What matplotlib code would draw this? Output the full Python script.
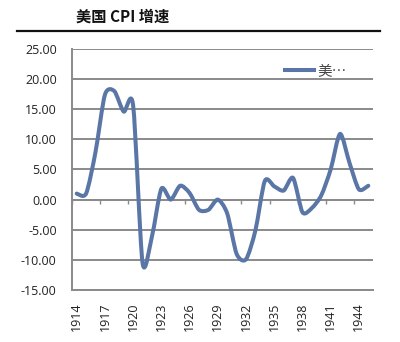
import matplotlib
matplotlib.use("Agg")
import matplotlib.pyplot as plt
from matplotlib.path import Path
from matplotlib.patches import PathPatch
from matplotlib.lines import Line2D
import numpy as np

plt.rcParams['font.family'] = ['Open Sans', 'Noto Sans CJK SC', 'DejaVu Sans']
plt.rcParams['axes.unicode_minus'] = False

# US CPI growth rate, %, 1914-1945
years = list(range(1914, 1946))
cpi = [1.0, 1.0, 7.9, 17.4, 18.0, 14.6, 15.6, -10.5, -6.1, 1.8,
       0.0, 2.3, 1.1, -1.7, -1.7, 0.0, -2.3, -9.0, -9.9, -5.1,
       3.1, 2.2, 1.5, 3.6, -2.1, -1.4, 0.7, 5.0, 10.9, 6.1,
       1.7, 2.3]
yticks = [25, 20, 15, 10, 5, 0, -5, -10, -15]

blue = '#5a76a6'
grid = '#8a8a8a'

fig = plt.figure(figsize=(4.0, 3.42), dpi=100)
ax = fig.add_axes([0.18, 0.152, 0.7525, 0.705])

# smoothed line: cubic bezier segments through each point
x = np.arange(len(cpi), dtype=float)
y = np.array(cpi, dtype=float)
pts = np.column_stack([x, y])
ext = np.vstack([pts[0], pts, pts[-1]])
k = 0.13
verts = [tuple(pts[0])]
codes = [Path.MOVETO]
for i in range(len(pts) - 1):
    p0, p1, p2, p3 = ext[i], ext[i + 1], ext[i + 2], ext[i + 3]
    c1 = p1 + (p2 - p0) * k
    c2 = p2 - (p3 - p1) * k
    verts += [tuple(c1), tuple(c2), tuple(p2)]
    codes += [Path.CURVE4] * 3
ax.add_patch(PathPatch(Path(verts, codes), fill=False, edgecolor=blue,
                       lw=2.9, capstyle='round', joinstyle='round', zorder=3))

ax.set_xlim(-0.5, len(cpi) - 0.5)
ax.set_ylim(-15, 25)
ax.set_yticks(yticks)
ax.set_yticklabels([f'{v:.2f}' for v in yticks])
ax.yaxis.grid(True, color=grid, lw=1.4)
ax.set_axisbelow(True)

ax.set_xticks(x[::3])
ax.set_xticklabels([str(yr) for yr in years[::3]], rotation=90)
ax.tick_params(axis='both', length=0, labelsize=9, colors='#222222')
ax.tick_params(axis='x', pad=9)
ax.tick_params(axis='y', pad=11)

for s in ['top', 'right']:
    ax.spines[s].set_visible(False)
for s in ['left', 'bottom']:
    ax.spines[s].set_color(grid)
    ax.spines[s].set_linewidth(1.4)

# category axis crossing at zero with tick marks between groups
zero_axis = ax.secondary_xaxis(15 / 40)
zero_axis.set_xticks(np.arange(-0.5, len(cpi), 3))
zero_axis.set_xticklabels([])
zero_axis.tick_params(length=3, width=1, color=grid, direction='out')
zero_axis.spines['bottom'].set_color(grid)
zero_axis.spines['bottom'].set_linewidth(1.4)

handle = Line2D([], [], color=blue, lw=2.9)
ax.legend([handle], ['美…'], loc='upper right', bbox_to_anchor=(0.955, 0.99),
          frameon=False, handlelength=2.0, handletextpad=0.2,
          prop={'family': ['Noto Sans CJK SC'], 'size': 10.5}, labelcolor='#444444')

fig.text(0.19, 0.95, '美国 CPI 增速', fontsize=11, fontweight='bold',
         family=['Noto Sans CJK SC'], va='center', ha='left', color='#111111')
fig.add_artist(Line2D([0.043, 0.95], [0.908, 0.908], color='#111111', lw=1.6))

fig.savefig('out.png', dpi=100)
